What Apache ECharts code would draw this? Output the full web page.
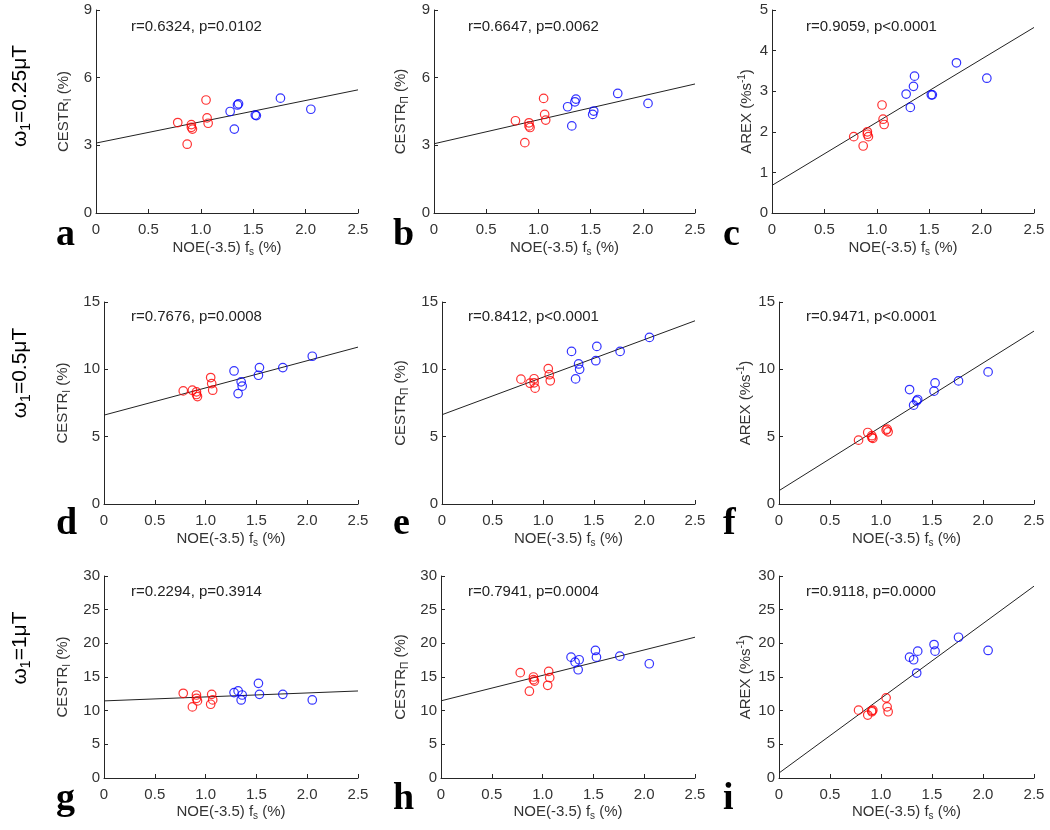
<!DOCTYPE html>
<html>
<head>
<meta charset="utf-8">
<script src="https://cdn.jsdelivr.net/npm/echarts@6/dist/echarts.min.js"></script>
<style>
html,body{margin:0;padding:0;background:#fff;}
#chart{width:1050px;height:830px;}
</style>
</head>
<body>
<div id="chart"></div>
<script>
// ---------------- DATA ----------------
const redX  = [0.78, 0.87, 0.91, 0.91, 0.92, 1.05, 1.06, 1.07];
const blueX = [1.28, 1.32, 1.35, 1.36, 1.52, 1.53, 1.76, 2.05];

const aRed  = [4.01, 3.05, 3.92, 3.80, 3.72, 5.01, 4.22, 3.98];
const aBlue = [4.50, 3.72, 4.79, 4.84, 4.34, 4.32, 5.09, 4.60];
const bRed  = [4.09, 3.12, 4.00, 3.86, 3.79, 5.08, 4.37, 4.12];
const bBlue = [4.71, 3.86, 4.93, 5.05, 4.37, 4.52, 5.30, 4.86];
const cRed  = [1.88, 1.65, 2.00, 1.94, 1.88, 2.66, 2.31, 2.18];
const cBlue = [2.93, 2.60, 3.12, 3.37, 2.91, 2.91, 3.70, 3.32];
const dRed  = [8.40, 8.45, 8.33, 8.13, 7.98, 9.39, 8.94, 8.45];
const dBlue = [9.88, 8.20, 9.07, 8.75, 9.56, 10.13, 10.13, 10.97];
const eRed  = [9.27, 8.97, 9.30, 9.00, 8.60, 10.05, 9.60, 9.15];
const eBlue = [11.33, 9.29, 10.40, 10.00, 10.64, 11.70, 11.33, 12.37];
const fRed  = [4.74, 5.31, 5.07, 4.94, 4.87, 5.49, 5.56, 5.36];
const fBlue = [8.50, 7.34, 7.66, 7.76, 8.38, 8.99, 9.14, 9.81];
const gRed  = [12.58, 10.56, 12.33, 11.84, 11.45, 10.95, 12.43, 11.60];
const gBlue = [12.68, 12.93, 11.59, 12.33, 14.06, 12.43, 12.43, 11.59];
const hRed  = [15.64, 12.89, 15.00, 14.60, 14.40, 13.77, 15.84, 14.90];
const hBlue = [17.95, 17.20, 16.08, 17.56, 18.94, 17.95, 18.10, 16.97];
const iRed  = [10.08, 9.35, 9.84, 9.99, 10.08, 11.90, 10.57, 9.84];
const iBlue = [17.95, 17.56, 15.59, 18.84, 19.82, 18.84, 20.90, 18.94];

const redSets  = [aRed, bRed, cRed, dRed, eRed, fRed, gRed, hRed, iRed];
const blueSets = [aBlue, bBlue, cBlue, dBlue, eBlue, fBlue, gBlue, hBlue, iBlue];

const fitIntercept = [3.10, 3.07, 0.68, 6.60, 6.63, 0.99, 11.45, 11.46, 0.74];
const fitSlope     = [0.944, 1.06, 1.556, 2.02, 2.79, 4.74, 0.59, 3.78, 11.1];

const statsText = ['r=0.6324, p=0.0102', 'r=0.6647, p=0.0062', 'r=0.9059, p<0.0001',
                   'r=0.7676, p=0.0008', 'r=0.8412, p<0.0001', 'r=0.9471, p<0.0001',
                   'r=0.2294, p=0.3914', 'r=0.7941, p=0.0004', 'r=0.9118, p=0.0000'];
const panelLetters = ['a','b','c','d','e','f','g','h','i'];
const yMaxs      = [9, 9, 5, 15, 15, 15, 30, 30, 30];
const yIntervals = [3, 3, 1, 5, 5, 5, 5, 5, 5];
const xMin = 0, xMax = 2.5, xInterval = 0.5;
const yNames = ['{n|CESTR}{s|I}{n| (%)}', '{n|CESTR}{s|Π}{n| (%)}', '{n|AREX (%s}{p|-1}{n|)}'];
const xName = '{n|NOE(-3.5) f}{s|s}{n| (%)}';
const rowLabels = [['ω','1','=0.25μT'], ['ω','1','=0.5μT'], ['ω','1','=1μT']];

// ---------------- LAYOUT ----------------
const rowTop = [10, 302, 576];
const rowH = [203, 202, 202];
const gridLeft = [96, 434, 772, 104, 442, 779, 104, 441, 779];
const colRight = [358, 695, 1034];
const yNameGap = [23, 24, 16, 32, 32, 24, 32, 31, 24];
const xNameGap = [25, 25, 25, 25, 25, 25, 24, 24, 24];
const statX = [131, 468, 806];
const statDY = [17, 15, 16];
const letterX = [56, 393, 723];
const letterBase = [246, 535, 810];
const rowLabelY = [96, 373, 648];

const FONT = 'Liberation Sans, Arial, sans-serif';
const TXT = '#333333';
const FS = 15;
const richText = {
  n: {fontSize: FS, fontFamily: FONT, color: TXT, lineHeight: 19},
  s: {fontSize: 10, fontFamily: FONT, color: TXT, lineHeight: 10, verticalAlign: 'bottom'},
  p: {fontSize: 10, fontFamily: FONT, color: TXT, lineHeight: 10, verticalAlign: 'top'}
};

const grids = [], xAxes = [], yAxes = [], series = [], graphics = [];
for (let k = 0; k < 9; k++) {
  const r = Math.floor(k / 3), c = k % 3;
  const left = gridLeft[k];
  grids.push({left: left, top: rowTop[r], width: colRight[c] - left, height: rowH[r], containLabel: false});
  const axisCommon = {
    axisLine: {show: true, onZero: false, lineStyle: {color: '#262626', width: 1}},
    axisTick: {show: true, inside: true, length: 4, lineStyle: {color: '#262626', width: 1}},
    splitLine: {show: false},
    nameLocation: 'middle',
    nameTextStyle: {rich: richText}
  };
  xAxes.push(Object.assign({}, axisCommon, {
    gridIndex: k, type: 'value', min: xMin, max: xMax, interval: xInterval,
    axisLabel: {fontSize: FS, fontFamily: FONT, color: TXT, margin: 9,
      formatter: v => v === 0 ? '0' : v.toFixed(1)},
    name: xName, nameGap: xNameGap[k]
  }));
  yAxes.push(Object.assign({}, axisCommon, {
    gridIndex: k, type: 'value', min: 0, max: yMaxs[k], interval: yIntervals[k],
    axisLabel: {fontSize: FS, fontFamily: FONT, color: TXT, margin: 4},
    name: yNames[c], nameGap: yNameGap[k], nameRotate: 90
  }));
  const b0 = fitIntercept[k], m = fitSlope[k];
  series.push({
    type: 'line', xAxisIndex: k, yAxisIndex: k, symbol: 'none', silent: true, z: 1,
    lineStyle: {color: '#222', width: 1}, animation: false,
    data: [[xMin, b0], [xMax, b0 + m * xMax]]
  });
  series.push({
    type: 'scatter', xAxisIndex: k, yAxisIndex: k, symbol: 'circle', symbolSize: 8.5, z: 3,
    itemStyle: {color: 'rgba(0,0,0,0)', borderColor: '#ff0000', borderWidth: 1.2},
    data: redX.map((x, i) => [x, redSets[k][i]]), animation: false
  });
  series.push({
    type: 'scatter', xAxisIndex: k, yAxisIndex: k, symbol: 'circle', symbolSize: 8.5, z: 3,
    itemStyle: {color: 'rgba(0,0,0,0)', borderColor: '#0000ff', borderWidth: 1.2},
    data: blueX.map((x, i) => [x, blueSets[k][i]]), animation: false
  });
  graphics.push({
    type: 'text', x: statX[c], y: rowTop[r] + statDY[r],
    style: {text: statsText[k], font: FS + 'px ' + FONT, fill: '#222',
      textAlign: 'left', textVerticalAlign: 'middle', align: 'left', verticalAlign: 'middle'}
  });
  graphics.push({
    type: 'text', x: letterX[c], y: letterBase[r] + 8,
    style: {text: panelLetters[k], font: 'bold 38px Liberation Serif, Times New Roman, serif', fill: '#000',
      textAlign: 'left', textVerticalAlign: 'bottom', align: 'left', verticalAlign: 'bottom'}
  });
}
for (let r = 0; r < 3; r++) {
  const lab = rowLabels[r];
  graphics.push({
    type: 'text', x: 20, y: rowLabelY[r], rotation: Math.PI / 2,
    style: {
      text: '{m|' + lab[0] + '}{s|' + lab[1] + '}{m|' + lab[2] + '}',
      rich: {
        m: {fontSize: 21, fontFamily: FONT, fill: '#000', color: '#000', lineHeight: 27},
        s: {fontSize: 14, fontFamily: FONT, fill: '#000', color: '#000', lineHeight: 14, verticalAlign: 'bottom'}
      },
      textAlign: 'center', textVerticalAlign: 'middle', align: 'center', verticalAlign: 'middle'
    }
  });
}

const chart = echarts.init(document.getElementById('chart'), null, {renderer: 'canvas'});
chart.setOption({
  animation: false,
  backgroundColor: '#ffffff',
  grid: grids, xAxis: xAxes, yAxis: yAxes, series: series, graphic: graphics
});
</script>
</body>
</html>
